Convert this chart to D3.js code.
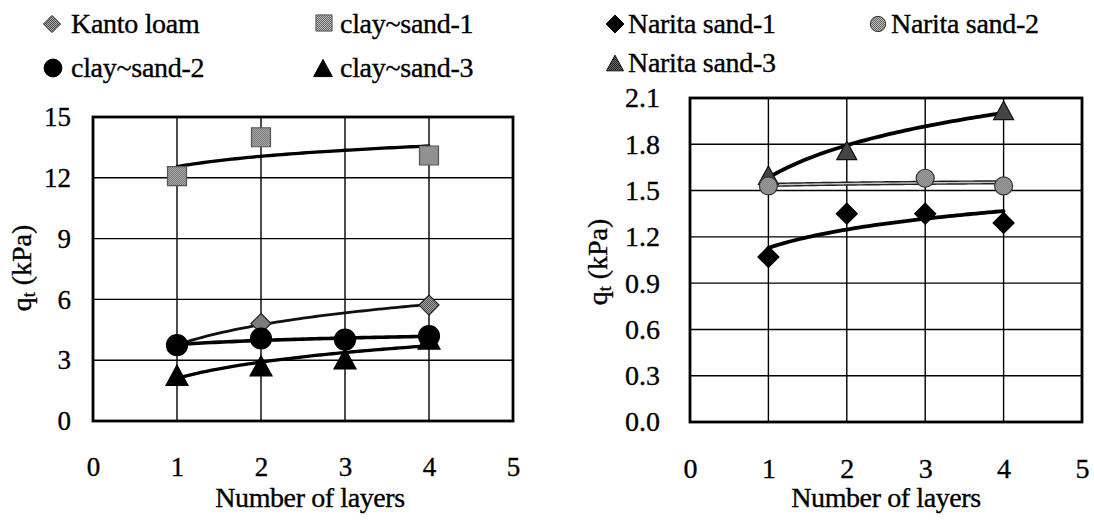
<!DOCTYPE html>
<html>
<head>
<meta charset="utf-8">
<script src="https://cdn.jsdelivr.net/npm/d3@7"></script>
<style>
  html, body { margin: 0; padding: 0; background: #fff; }
  svg { display: block; }
  svg text { font-family: "Liberation Serif", "Times New Roman", serif; fill: #000; stroke: #000; stroke-width: 0.35px; }
</style>
</head>
<body>
<svg id="chart" width="1094" height="521"></svg>
<script>
// values
var layerTicks = [0, 1, 2, 3, 4, 5];
var leftTicks = [0, 3, 6, 9, 12, 15];
var rightTicks = [0, 0.3, 0.6, 0.9, 1.2, 1.5, 1.8, 2.1];

var kantoLayers = [1, 2, 4];
var kantoQt = [3.72, 4.81, 5.72];
var claySand1Layers = [1, 2, 4];
var claySand1Qt = [12.08, 14.0, 13.1];
var claySand2Layers = [1, 2, 3, 4];
var claySand2Qt = [3.74, 4.07, 4.02, 4.19];
var claySand3Layers = [1, 2, 3, 4];
var claySand3Qt = [2.26, 2.72, 3.07, 4.05];

var narita1Layers = [1, 2, 3, 4];
var narita1Qt = [1.07, 1.35, 1.35, 1.29];
var narita2Layers = [1, 3, 4];
var narita2Qt = [1.53, 1.58, 1.53];
var narita3Layers = [1, 2, 4];
var narita3Qt = [1.60, 1.76, 2.02];

var FONT = '"Liberation Serif", "Times New Roman", serif';

var svg = d3.select("#chart");
var defs = svg.append("defs");

// speckled grey fills, like the scanned halftone markers
function halftone(id, dark, light) {
   var p = defs.append("pattern").attr("id", id)
      .attr("width", 2).attr("height", 2)
      .attr("patternUnits", "userSpaceOnUse");
   p.append("rect").attr("width", 2).attr("height", 2).attr("fill", light);
   p.append("rect").attr("width", 1).attr("height", 1).attr("fill", dark);
   p.append("rect").attr("x", 1).attr("y", 1).attr("width", 1).attr("height", 1).attr("fill", dark);
}
halftone("greyA", "#4e4e4e", "#aaaaaa");
halftone("greyB", "#666666", "#bcbcbc");
halftone("greyC", "#1a1a1a", "#707070");

// marker shapes, size = bounding width squared
var diamondType = { draw: function(ctx, size) {
   var r = Math.sqrt(size) / 2;
   ctx.moveTo(0, -r); ctx.lineTo(r, 0); ctx.lineTo(0, r); ctx.lineTo(-r, 0); ctx.closePath();
}};
var triangleType = { draw: function(ctx, size) {
   var w = Math.sqrt(size), h = w * 0.92;
   ctx.moveTo(0, -h / 2); ctx.lineTo(w / 2, h / 2); ctx.lineTo(-w / 2, h / 2); ctx.closePath();
}};
var squareType = { draw: function(ctx, size) {
   var r = Math.sqrt(size) / 2;
   ctx.rect(-r, -r, 2 * r, 2 * r);
}};
var circleType = { draw: function(ctx, size) {
   var r = Math.sqrt(size) / 2;
   ctx.moveTo(r, 0); ctx.arc(0, 0, r, 0, 2 * Math.PI);
}};

// Excel style logarithmic trendline  y = a + b ln(x)
function logFit(xs, ys) {
   var lx = xs.map(Math.log), mx = d3.mean(lx), my = d3.mean(ys);
   var b = d3.sum(lx, function(v, i) { return (v - mx) * (ys[i] - my); }) /
           d3.sum(lx, function(v) { return (v - mx) * (v - mx); });
   var a = my - b * mx;
   return function(x) { return a + b * Math.log(x); };
}

function makeSeries(name, xs, ys, style) {
   return { name: name, points: xs.map(function(d, i) { return [d, ys[i]]; }), xs: xs, ys: ys, style: style };
}

var leftSeries = [
   makeSeries("Kanto loam", kantoLayers, kantoQt,
      { type: diamondType, size: 20, fill: "url(#greyA)", stroke: "#222", line: "#111", lw: 2.8 }),
   makeSeries("clay~sand-1", claySand1Layers, claySand1Qt,
      { type: squareType, size: 19, fill: "url(#greyB)", stroke: "#555", line: "#000", lw: 3.3 }),
   makeSeries("clay~sand-3", claySand3Layers, claySand3Qt,
      { type: triangleType, size: 22, fill: "#000", stroke: "#000", line: "#000", lw: 3.3 }),
   makeSeries("clay~sand-2", claySand2Layers, claySand2Qt,
      { type: circleType, size: 21, fill: "#000", stroke: "#000", line: "#000", lw: 3.6 })
];

var rightSeries = [
   makeSeries("Narita sand-1", narita1Layers, narita1Qt,
      { type: diamondType, size: 21, fill: "#000", stroke: "#000", line: "#000", lw: 3.8 }),
   makeSeries("Narita sand-3", narita3Layers, narita3Qt,
      { type: triangleType, size: 20, fill: "url(#greyC)", stroke: "#111", line: "#000", lw: 3.8 }),
   makeSeries("Narita sand-2", narita2Layers, narita2Qt,
      { type: circleType, size: 18, fill: "url(#greyB)", stroke: "#333", line: "#222", lw: 4.2, inner: "#c8c8c8" })
];

var panels = [
   { left: 93, right: 513, top: 117, bottom: 421, yDomain: [0, 15], yTicks: leftTicks,
     yFormat: d3.format("d"), yPad: 22, tickFont: 27,
     yTitleX: 31, yTitleY: 268, xTitleX: 310, series: leftSeries },
   { left: 690, right: 1082, top: 98, bottom: 422, yDomain: [0, 2.1], yTicks: rightTicks,
     yFormat: d3.format(".1f"), yPad: 30, tickFont: 28,
     yTitleX: 607, yTitleY: 262, xTitleX: 886, series: rightSeries }
];

function drawPanel(p) {
   var x = d3.scaleLinear().domain([0, 5]).range([p.left, p.right]);
   var y = d3.scaleLinear().domain(p.yDomain).range([p.bottom, p.top]);
   var g = svg.append("g");

   // grid lines
   g.append("g").selectAll("line")
      .data(p.yTicks.slice(1, -1))
      .enter().append("line")
      .attr("x1", p.left).attr("x2", p.right)
      .attr("y1", function(d) { return y(d); })
      .attr("y2", function(d) { return y(d); })
      .attr("stroke", "#000").attr("stroke-width", 1.4);
   g.append("g").selectAll("line")
      .data(layerTicks.slice(1, -1))
      .enter().append("line")
      .attr("x1", function(d) { return x(d); })
      .attr("x2", function(d) { return x(d); })
      .attr("y1", p.top).attr("y2", p.bottom)
      .attr("stroke", "#000").attr("stroke-width", 1.4);

   // plot frame
   g.append("rect")
      .attr("x", p.left).attr("y", p.top)
      .attr("width", p.right - p.left).attr("height", p.bottom - p.top)
      .attr("fill", "none").attr("stroke", "#000").attr("stroke-width", 2.8);

   // tick labels
   var yAxis = g.append("g")
      .attr("transform", "translate(" + p.left + ",0)")
      .call(d3.axisLeft(y).tickValues(p.yTicks).tickSize(0).tickPadding(p.yPad).tickFormat(p.yFormat));
   var xAxis = g.append("g")
      .attr("transform", "translate(0," + p.bottom + ")")
      .call(d3.axisBottom(x).tickValues(layerTicks).tickSize(0).tickPadding(36).tickFormat(d3.format("d")));
   [yAxis, xAxis].forEach(function(a) {
      a.attr("font-family", FONT).attr("font-size", p.tickFont);
      a.select(".domain").remove();
      a.selectAll("text").attr("font-family", FONT).attr("font-size", p.tickFont);
   });

   // axis titles
   var yt = g.append("text")
      .attr("transform", "translate(" + p.yTitleX + "," + p.yTitleY + ") rotate(-90)")
      .attr("text-anchor", "middle").attr("font-family", FONT).attr("font-size", 28);
   yt.append("tspan").text("q");
   yt.append("tspan").attr("font-size", 18).attr("dy", 4).text("t");
   yt.append("tspan").attr("dy", -4).text(" (kPa)");

   g.append("text")
      .attr("x", p.xTitleX).attr("y", 507)
      .attr("text-anchor", "middle").attr("font-family", FONT).attr("font-size", 28)
      .attr("letter-spacing", -0.4)
      .text("Number of layers");

   // trendlines
   var line = d3.line().x(function(d) { return x(d[0]); }).y(function(d) { return y(d[1]); });
   p.series.forEach(function(s) {
      var f = logFit(s.xs, s.ys);
      var x0 = d3.min(s.xs), x1 = d3.max(s.xs);
      var pts = d3.range(0, 61).map(function(i) { var t = x0 + (x1 - x0) * i / 60; return [t, f(t)]; });
      g.append("path").attr("d", line(pts))
         .attr("fill", "none").attr("stroke", s.style.line)
         .attr("stroke-width", s.style.lw).attr("stroke-linecap", "round");
      if (s.style.inner) {
         g.append("path").attr("d", line(pts))
            .attr("fill", "none").attr("stroke", s.style.inner).attr("stroke-width", 1.4);
      }
   });

   // markers
   p.series.forEach(function(s) {
      var sym = d3.symbol().type(s.style.type).size(s.style.size * s.style.size);
      g.append("g").selectAll("path")
         .data(s.points)
         .enter().append("path")
         .attr("d", sym)
         .attr("transform", function(d) { return "translate(" + x(d[0]) + "," + y(d[1]) + ")"; })
         .attr("fill", s.style.fill).attr("stroke", s.style.stroke).attr("stroke-width", 1.2);
   });
}

panels.forEach(drawPanel);

// legends
function styleOf(list, name) {
   return list.filter(function(s) { return s.name === name; })[0].style;
}
var legendItems = [
   { name: "Kanto loam", style: styleOf(leftSeries, "Kanto loam"), mx: 52, my: 24, tx: 71, ty: 33 },
   { name: "clay~sand-1", style: styleOf(leftSeries, "clay~sand-1"), mx: 324, my: 23, tx: 340, ty: 33 },
   { name: "clay~sand-2", style: styleOf(leftSeries, "clay~sand-2"), mx: 53, my: 68, tx: 71, ty: 77 },
   { name: "clay~sand-3", style: styleOf(leftSeries, "clay~sand-3"), mx: 323, my: 68, tx: 340, ty: 77 },
   { name: "Narita sand-1", style: styleOf(rightSeries, "Narita sand-1"), mx: 615, my: 24, tx: 628, ty: 33 },
   { name: "Narita sand-2", style: styleOf(rightSeries, "Narita sand-2"), mx: 878, my: 24, tx: 891, ty: 33 },
   { name: "Narita sand-3", style: styleOf(rightSeries, "Narita sand-3"), mx: 615, my: 63, tx: 628, ty: 72 }
];

var legend = svg.append("g").selectAll("g")
   .data(legendItems)
   .enter().append("g");
legend.append("path")
   .attr("d", function(d) {
      var sz = d.style.size * 0.85;
      return d3.symbol().type(d.style.type).size(sz * sz)();
   })
   .attr("transform", function(d) { return "translate(" + d.mx + "," + d.my + ")"; })
   .attr("fill", function(d) { return d.style.fill; })
   .attr("stroke", function(d) { return d.style.stroke; })
   .attr("stroke-width", 1);
legend.append("text")
   .attr("x", function(d) { return d.tx; })
   .attr("y", function(d) { return d.ty; })
   .attr("font-family", FONT)
   .attr("font-size", 28)
   .attr("letter-spacing", -0.3)
   .text(function(d) { return d.name; });
</script>
</body>
</html>
